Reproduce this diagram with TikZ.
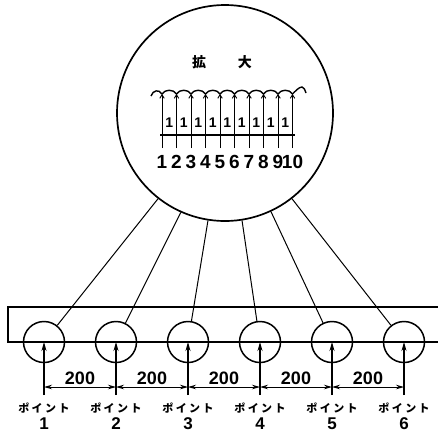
\documentclass[tikz,border=0pt]{standalone}
\usepackage{fontspec}
\setmainfont{Liberation Sans}
\newfontfamily\jpfont{Noto Sans CJK JP}
\usetikzlibrary{arrows.meta}
\usetikzlibrary{positioning}

\begin{document}
\begin{tikzpicture}[x=1pt,y=-1pt,
		ring/.style={circle,draw,line width=1.5pt,minimum size=41pt,inner sep=0pt},
		ptarrow/.style={line width=1.1pt,-{Stealth[length=9pt,width=5pt]}},
		tinyarrow/.style={line width=0.9pt,-{Straight Barb[length=3.5pt,width=4.5pt]}},
		dimline/.style={line width=1pt,{Stealth[length=8pt,width=4.5pt]}-{Stealth[length=8pt,width=4.5pt]}},
		num/.style={font=\bfseries\fontsize{18}{18}\selectfont,inner sep=0pt},
		kata/.style={font=\jpfont\bfseries\fontsize{11}{11}\selectfont,inner sep=0pt}]
	\useasboundingbox (0,0) rectangle (438,432);

	% enlarged view
	\node[circle,draw,line width=1.7pt,minimum size=216pt,inner sep=0pt] (big) at (225,113) {};
	\node[font=\jpfont\bfseries\fontsize{14}{14}\selectfont,inner sep=0pt] (title) at (222,62) {拡\hspace{32pt}大};

	\foreach \i in {1,...,10} {
		\pgfmathsetmacro\x{162+14.5*(\i-1)}
		\coordinate (t\i) at (\x,94);
		\coordinate (b\i) at (\x,148);
		\draw[tinyarrow] (b\i) -- (t\i);
		\node[num,font=\bfseries\fontsize{19}{19}\selectfont] (n\i) at (\x,162) {\i};
	}
	\foreach \i in {1,...,9} {
		\pgfmathsetmacro\x{169.25+14.5*(\i-1)}
		\node[font=\bfseries\fontsize{14}{14}\selectfont,inner sep=0pt] (u\i) at (\x,123) {1};
	}
	\draw[line width=2.2pt] (160,135) -- (295,135);

	% wavy surface
	\draw[line width=1.4pt] (151,96) .. controls +(2,-6) and +(-3,-5) .. (t1)
		\foreach \j in {2,...,10} { .. controls +(3,-5) and +(-3,-5) .. (t\j) }
		.. controls +(3,-3) and +(-3,0) .. (302,87) .. controls +(2,0) and +(-1,-3) .. (306,93);

	% pipe
	\draw[line width=1.4pt] (438,307) -- (8,307) -- (8,342) -- (438,342);

	\foreach \i/\a in {1/232,2/246,3/261,4/279,5/295,6/308} {
		\pgfmathsetmacro\x{44+72*(\i-1)}
		\node[ring] (c\i) at (\x,342) {};
		\coordinate (f\i) at (\x,395);
		\coordinate (d\i) at (\x,387);
		\draw[ptarrow] (f\i) -- (c\i.center);
		\draw[line width=1pt] (c\i) -- (big.\a);
		\node[kata] (k\i) at (\x,408) {ポ\kern2.5ptイ\kern2.5ptン\kern2.5ptト};
		\node[num,font=\bfseries\fontsize{17}{17}\selectfont] (p\i) at (\x,423.5) {\i};
	}

	% spacing
	\foreach \i [count=\j from 2] in {1,...,5} {
		\draw[dimline] (d\i) -- (d\j) node[midway,above=2pt,num] (w\i) {200};
	}
\end{tikzpicture}
\end{document}
